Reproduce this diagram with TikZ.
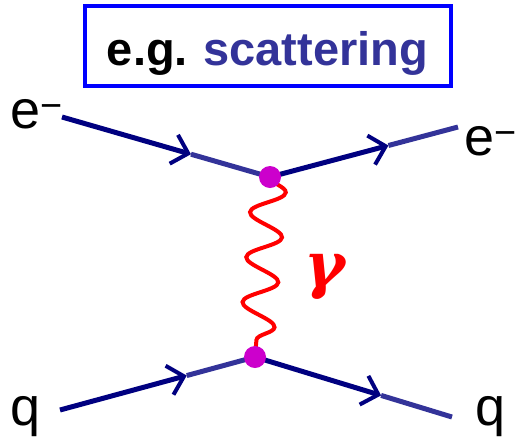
\documentclass[tikz,border=0pt]{standalone}
\usepackage{fontspec}
\setmainfont{Liberation Sans}
\newfontfamily\gamfont{DejaVu Serif}
\usetikzlibrary{arrows.meta,decorations.pathmorphing}
\definecolor{navyline}{HTML}{000080}
\definecolor{paleline}{HTML}{333399}
\definecolor{boxblue}{HTML}{0000FF}
\definecolor{vtxdot}{HTML}{CC00CC}

\begin{document}
\begin{tikzpicture}[
  x=1pt, y=-1pt,
  lbl/.style={anchor=base west, inner sep=0pt, font=\fontsize{54}{54}\selectfont},
  titlebox/.style={draw=boxblue, line width=4pt, inner sep=0pt, minimum width=366pt, minimum height=80pt,
    text height=39pt, text depth=0pt, font=\fontsize{47}{47}\selectfont\bfseries},
  ferin/.style={draw=navyline, line width=5pt, -{Straight Barb[length=15pt,width=30pt,line width=4pt]}},
  ferout/.style={draw=paleline, line width=5pt},
  photon/.style={draw=red, line width=4pt, decorate, decoration={snake, amplitude=17pt, segment length=45.1pt}},
  vdot/.style={circle, fill=vtxdot, inner sep=0pt, minimum size=22pt},
]
\useasboundingbox (0,0) rectangle (521,445);

% title
\node[titlebox] (title) at (267.5,46) {e.g.\,\,\textcolor{paleline}{scattering}};

% external legs and vertices
\coordinate (ein)  at (62,117);
\coordinate (eout) at (458,127);
\coordinate (qin)  at (60,410);
\coordinate (qout) at (452,417);
\coordinate (vt) at (270,177);
\coordinate (vb) at (255,357);

% fermion lines, arrow at about two thirds
\path (ein) -- (vt) coordinate[pos=0.62] (m1);
\path (vt) -- (eout) coordinate[pos=0.63] (m2);
\path (qin) -- (vb) coordinate[pos=0.65] (m3);
\path (vb) -- (qout) coordinate[pos=0.64] (m4);
\draw[ferin] (ein) -- (m1);
\draw[ferout] (m1) -- (vt);
\draw[ferin] (vt) -- (m2);
\draw[ferout] (m2) -- (eout);
\draw[ferin] (qin) -- (m3);
\draw[ferout] (m3) -- (vb);
\draw[ferin] (vb) -- (m4);
\draw[ferout] (m4) -- (qout);

% photon
\draw[photon] (vt) -- (vb);
\node[text=red, inner sep=0pt, anchor=base west, font=\gamfont\fontsize{62}{62}\selectfont\bfseries\itshape] (gam) at (304,286) {γ};

\node[vdot] (dtop) at (vt) {};
\node[vdot] (dbot) at (vb) {};

% labels
\node[lbl] (eL) at (10,128) {e\textsuperscript{−}};
\node[lbl] (eR) at (464,155) {e\textsuperscript{−}};
\node[lbl] (qL) at (10,425) {q};
\node[lbl] (qR) at (475,425) {q};
\end{tikzpicture}
\end{document}
